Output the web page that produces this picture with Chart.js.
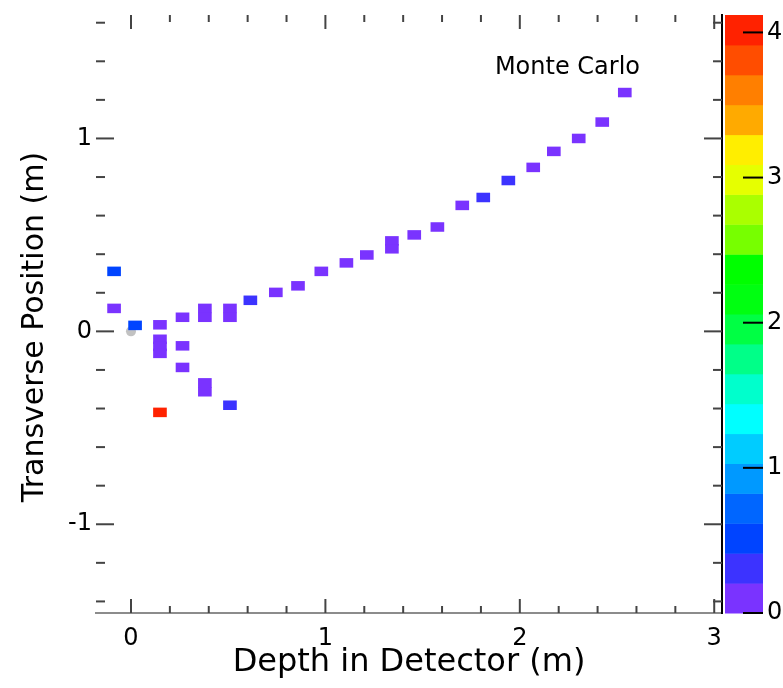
<!DOCTYPE html>
<html>
<head>
<meta charset="utf-8">
<script src="https://cdn.jsdelivr.net/npm/chart.js@4.4.0/dist/chart.umd.min.js"></script>
<style>
  body { margin: 0; background: #fff; }
  #wrap { width: 783px; height: 688px; }
</style>
</head>
<body>
<div id="wrap"><canvas id="mcChart"></canvas></div>
<script>
// hit cells: depth (m), transverse position (m), charge
const hitDepth = [-0.087, -0.087, 0.021, 0.149, 0.149, 0.149, 0.149, 0.265, 0.265, 0.265,
  0.380, 0.380, 0.380, 0.380, 0.509, 0.509, 0.509, 0.149, 0.614, 0.745, 0.859, 0.979,
  1.108, 1.213, 1.342, 1.342, 1.457, 1.576, 1.704, 1.812, 1.941, 2.069, 2.175, 2.303,
  2.424, 2.540];
const hitTrans = [0.311, 0.119, 0.031, 0.034, -0.041, -0.078, -0.114, 0.073, -0.075, -0.187,
  0.119, 0.073, -0.267, -0.313, 0.119, 0.073, -0.383, -0.420, 0.161, 0.202, 0.236, 0.311,
  0.355, 0.396, 0.469, 0.428, 0.500, 0.541, 0.653, 0.694, 0.782, 0.850, 0.933, 1.000,
  1.085, 1.238];
const hitCharge = [0.55, 0.1, 0.45, 0.1, 0.1, 0.1, 0.1, 0.1, 0.1, 0.1,
  0.1, 0.1, 0.1, 0.1, 0.1, 0.1, 0.3, 4.0, 0.3, 0.1, 0.1, 0.1,
  0.1, 0.1, 0.1, 0.1, 0.1, 0.1, 0.1, 0.3, 0.3, 0.1, 0.1, 0.1,
  0.1, 0.1];
const vertexDepth = [0.0];
const vertexTrans = [0.0];

const depthTicks = [0, 1, 2, 3];
const transTicks = [-1, 0, 1];
const chargeTicks = [0, 1, 2, 3, 4];

const palette = ['#7a33ff', '#3c33ff', '#0044ff', '#0066ff', '#0099ff', '#00ccff', '#00ffff',
  '#00ffcc', '#00ff88', '#00ff44', '#00ff11', '#00ff00', '#77ff00', '#aaff00', '#e6ff00',
  '#ffee00', '#ffaa00', '#ff7f00', '#ff4d00', '#ff2200'];
const zMax = 4.12;
const cellHalf = 0.023;
const fam = "'DejaVu Sans', sans-serif";

function chargeColor(q) {
  const i = Math.min(palette.length - 1, Math.floor(q / zMax * palette.length));
  return palette[i];
}

const cells = hitDepth.map((d, i) => ({ x: d, y: [hitTrans[i] - cellHalf, hitTrans[i] + cellHalf] }));
const vertex = vertexDepth.map((d, i) => ({ x: d, y: vertexTrans[i] }));

function line(ctx, x0, y0, x1, y1) {
  ctx.beginPath();
  ctx.moveTo(x0, y0);
  ctx.lineTo(x1, y1);
  ctx.stroke();
}

// no extra label padding, the frame is placed by hand
function noPad(s) {
  s.paddingTop = 0;
  s.paddingBottom = 0;
  s.paddingLeft = 0;
  s.paddingRight = 0;
}

// colour bar, inward ticks, y title and the label
const detectorFrame = {
  id: 'detectorFrame',
  afterDraw(chart) {
    const { ctx, chartArea: a, scales: { x, y, z } } = chart;
    ctx.save();
    const n = palette.length;
    for (let i = 0; i < n; i++) {
      const p0 = z.getPixelForValue(i * z.max / n);
      const p1 = z.getPixelForValue((i + 1) * z.max / n);
      ctx.fillStyle = palette[i];
      ctx.fillRect(a.right + 3, p1, 38, p0 - p1 + 0.5);
    }
    ctx.strokeStyle = '#000';
    ctx.lineWidth = 2;
    chargeTicks.forEach(v => {
      const p = z.getPixelForValue(v);
      line(ctx, a.right + 21, p, a.right + 41, p);
    });

    ctx.strokeStyle = '#444';
    for (let k = Math.ceil(x.min / 0.2); k * 0.2 <= x.max + 1e-9; k++) {
      const p = x.getPixelForValue(k * 0.2);
      const len = k % 5 === 0 ? 14 : 7;
      line(ctx, p, a.bottom, p, a.bottom - len);
      line(ctx, p, a.top, p, a.top + len);
    }
    for (let k = Math.ceil(y.min / 0.2); k * 0.2 <= y.max + 1e-9; k++) {
      const p = y.getPixelForValue(k * 0.2);
      const len = k % 5 === 0 ? 18 : 9;
      line(ctx, a.left, p, a.left + len, p);
      line(ctx, a.right, p, a.right - len, p);
    }

    ctx.fillStyle = '#000';
    ctx.font = '24px ' + fam;
    ctx.textAlign = 'right';
    ctx.textBaseline = 'middle';
    ctx.fillText('Monte Carlo', a.right - 82, a.top + 53);

    ctx.translate(35, 327);
    ctx.rotate(-Math.PI / 2);
    ctx.textAlign = 'center';
    ctx.font = '30px ' + fam;
    ctx.fillText('Transverse Position (m)', 0, 0);
    ctx.restore();
  }
};

new Chart(document.getElementById('mcChart'), {
  type: 'bar',
  data: {
    datasets: [{
      type: 'bar',
      data: cells,
      backgroundColor: c => chargeColor(hitCharge[c.dataIndex]),
      borderWidth: 0,
      barThickness: 13,
      grouped: false
    }, {
      type: 'scatter',
      data: vertex,
      pointRadius: 5,
      backgroundColor: 'rgba(120,120,120,0.45)',
      borderWidth: 0
    }]
  },
  options: {
    responsive: true,
    maintainAspectRatio: false,
    animation: false,
    layout: { padding: { top: 15, left: 0, right: 0, bottom: 0 } },
    plugins: { legend: { display: false }, tooltip: { enabled: false } },
    scales: {
      x: {
        type: 'linear', min: -0.18, max: 3.04, offset: false,
        afterBuildTicks: s => { s.ticks = depthTicks.map(v => ({ value: v })); },
        afterFit: s => { s.height = 75; noPad(s); },
        grid: { drawOnChartArea: false, drawTicks: false, offset: false },
        border: { display: true, color: '#8c8c8c', width: 2 },
        ticks: { color: '#000', font: { family: fam, size: 24 }, padding: 11, maxRotation: 0, autoSkip: false },
        title: { display: true, text: 'Depth in Detector (m)', color: '#000', font: { family: fam, size: 32 }, padding: { top: 0, bottom: 6 } }
      },
      y: {
        type: 'linear', min: -1.46, max: 1.64, position: 'left',
        afterBuildTicks: s => { s.ticks = transTicks.map(v => ({ value: v })); },
        afterFit: s => { s.width = 96; noPad(s); },
        grid: { drawOnChartArea: false, drawTicks: false },
        border: { display: false },
        ticks: { color: '#000', font: { family: fam, size: 24 }, padding: 4, autoSkip: false }
      },
      z: {
        type: 'linear', min: 0, max: zMax, position: 'right',
        afterBuildTicks: s => { s.ticks = chargeTicks.map(v => ({ value: v })); },
        afterFit: s => { s.width = 61; noPad(s); },
        grid: { drawOnChartArea: false, drawTicks: false },
        border: { display: true, color: '#000', width: 2 },
        ticks: { color: '#000', font: { family: fam, size: 24 }, padding: 45, autoSkip: false }
      }
    }
  },
  plugins: [detectorFrame]
});
</script>
</body>
</html>
